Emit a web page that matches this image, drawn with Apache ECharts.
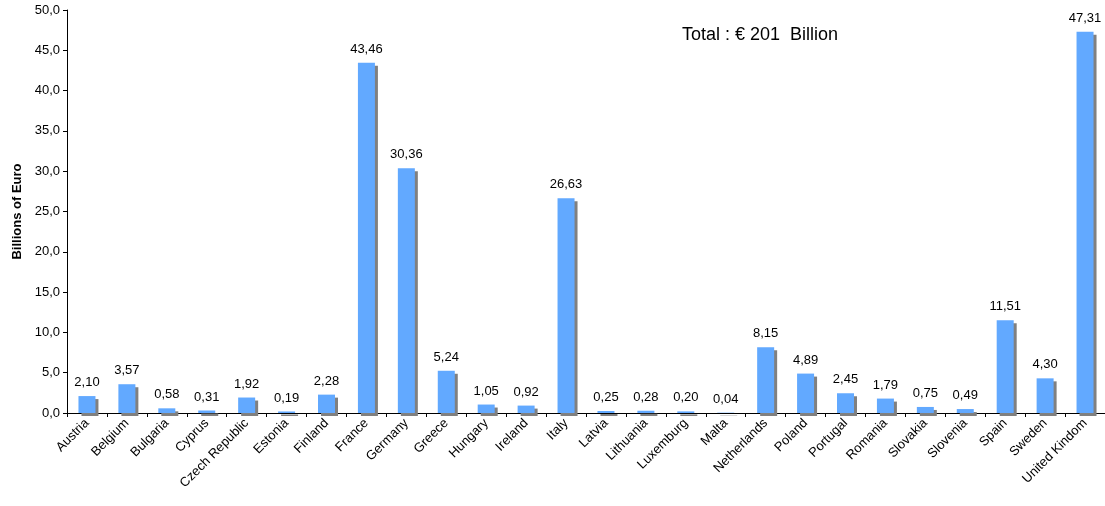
<!DOCTYPE html>
<html>
<head>
<meta charset="utf-8">
<script src="https://cdn.jsdelivr.net/npm/echarts@6/dist/echarts.min.js"></script>
<style>
  html, body { margin: 0; padding: 0; background: #fff; }
  #chart { width: 1105px; height: 506px; }
</style>
</head>
<body>
<div id="chart"></div>
<script>
const countries = ['Austria', 'Belgium', 'Bulgaria', 'Cyprus', 'Czech Republic', 'Estonia', 'Finland', 'France',
  'Germany', 'Greece', 'Hungary', 'Ireland', 'Italy', 'Latvia', 'Lithuania', 'Luxemburg', 'Malta', 'Netherlands',
  'Poland', 'Portugal', 'Romania', 'Slovakia', 'Slovenia', 'Spain', 'Sweden', 'United Kindom']
const billions = [2.10, 3.57, 0.58, 0.31, 1.92, 0.19, 2.28, 43.46, 30.36, 5.24, 1.05, 0.92, 26.63, 0.25, 0.28,
  0.20, 0.04, 8.15, 4.89, 2.45, 1.79, 0.75, 0.49, 11.51, 4.30, 47.31]
const totalText = 'Total : € 201  Billion'

const comma = (v, d) => v.toFixed(d).replace('.', ',')
const font = 'Liberation Sans, Arial, sans-serif'

const chart = echarts.init(document.getElementById('chart'))
chart.setOption({
  animation: false,
  backgroundColor: '#fff',
  title: {
    text: totalText, left: 677, top: 21,
    textStyle: { fontFamily: font, fontSize: 18, fontWeight: 'normal', color: '#000' }
  },
  grid: { left: 67, right: 0, top: 10, bottom: 93, outerBoundsMode: 'none', containLabel: false },
  xAxis: {
    type: 'category', data: countries,
    axisLine: { lineStyle: { color: '#000', width: 1 } },
    axisTick: { show: true, length: 4, lineStyle: { color: '#000' } },
    axisLabel: { rotate: 45, interval: 0, fontFamily: font, fontSize: 13, color: '#000', margin: 8 }
  },
  yAxis: {
    type: 'value', min: 0, max: 50, interval: 5,
    name: 'Billions of Euro', nameLocation: 'middle', nameGap: 43, nameRotate: 90,
    nameTextStyle: { fontFamily: font, fontSize: 13, fontWeight: 'bold', color: '#000' },
    axisLine: { show: true, lineStyle: { color: '#000', width: 1 } },
    axisTick: { show: true, length: 4, lineStyle: { color: '#000' } },
    splitLine: { show: false },
    axisLabel: { fontFamily: font, fontSize: 13, color: '#000', margin: 7, formatter: v => comma(v, 1) }
  },
  series: [{
    type: 'bar', data: billions, barWidth: 17,
    itemStyle: {
      color: '#62a9ff',
      shadowColor: '#808080', shadowBlur: 0, shadowOffsetX: 3, shadowOffsetY: 3
    },
    label: {
      show: true, position: 'top', distance: 7,
      fontFamily: font, fontSize: 13, color: '#000',
      formatter: p => comma(p.value, 2)
    }
  }]
})
</script>
</body>
</html>
